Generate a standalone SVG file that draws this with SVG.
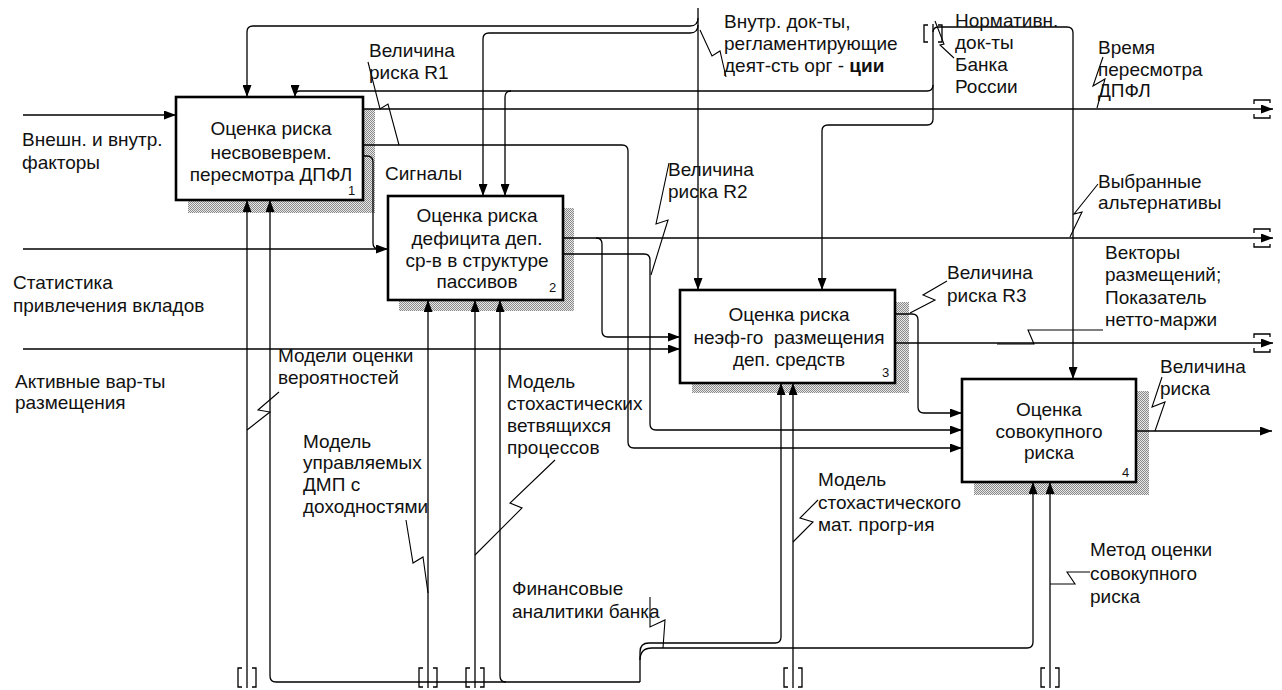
<svg xmlns="http://www.w3.org/2000/svg" width="1282" height="690" viewBox="0 0 1282 690">
<defs>
<pattern id="hatch" width="2" height="2" patternUnits="userSpaceOnUse"><rect width="2" height="2" fill="#e8e8e8"/><rect width="1" height="1" fill="#8a8a8a"/><rect x="1" y="1" width="1" height="1" fill="#8a8a8a"/></pattern>
<marker id="ah" viewBox="0 0 12 9" refX="12" refY="4.5" markerWidth="12" markerHeight="9" markerUnits="userSpaceOnUse" orient="auto"><path d="M0,0 L12,4.5 L0,9 z" fill="#000"/></marker>
</defs>
<style>
text{font-family:"Liberation Sans",Arial,sans-serif;font-size:19px;fill:#111}
.num{font-size:13px}
.box{fill:#fff;stroke:#000;stroke-width:2.6}
.sh{fill:url(#hatch)}
.c{fill:none;stroke:#000;stroke-width:1.3}
.a{marker-end:url(#ah)}
.sq{fill:none;stroke:#000;stroke-width:1.1}
.br{fill:none;stroke:#000;stroke-width:1.3}
.bc{text-anchor:middle}
</style>
<rect width="1282" height="690" fill="#fff"/>

<g id="node1">
<rect class="sh" x="188" y="109" width="187" height="104"/>
<rect class="box" x="176" y="97" width="187" height="103"/>
<text class="bc" x="271" y="135">Оценка риска</text>
<text class="bc" x="271" y="159">несвовеврем.</text>
<text class="bc" x="271" y="181">пересмотра ДПФЛ</text>
<text class="num" x="348" y="195">1</text>
</g>
<g id="node2">
<rect class="sh" x="399" y="208" width="175" height="103"/>
<rect class="box" x="388" y="196" width="175" height="104"/>
<text class="bc" x="477" y="222">Оценка риска</text>
<text class="bc" x="477" y="245">дефицита деп.</text>
<text class="bc" x="477" y="267">ср-в в структуре</text>
<text class="bc" x="477" y="288">пассивов</text>
<text class="num" x="549" y="292">2</text>
</g>
<g id="node3">
<rect class="sh" x="692" y="302" width="217" height="91"/>
<rect class="box" x="680" y="290" width="215" height="93"/>
<text class="bc" x="789" y="321">Оценка риска</text>
<text class="bc" x="789" y="344" xml:space="preserve">неэф-го  размещения</text>
<text class="bc" x="789" y="366">деп. средств</text>
<text class="num" x="882" y="377">3</text>
</g>
<g id="node4">
<rect class="sh" x="974" y="391" width="175" height="104"/>
<rect class="box" x="962" y="379" width="174" height="103"/>
<text class="bc" x="1049" y="416">Оценка</text>
<text class="bc" x="1049" y="438">совокупного</text>
<text class="bc" x="1049" y="459">риска</text>
<text class="num" x="1122" y="477">4</text>
</g>

<g id="connectors">
<path class="c a" d="M23,115 H176"/>
<path class="c a" d="M23,249 H388"/>
<path class="c a" d="M23,349 H680"/>
<path class="c" d="M363,156 H367 Q373,156 373,162 V243 Q373,249 379,249 H386"/>
<path class="c a" d="M363,109 H1273"/>
<path class="c a" d="M363,145 H622 Q628,145 628,151 V442 Q628,448 634,448 H962"/>
<path class="c a" d="M563,238 H1273"/>
<path class="c a" d="M596,238 Q602,238 602,244 V331 Q602,337 608,337 H680"/>
<path class="c a" d="M563,254 H644 Q650,254 650,260 V424 Q650,430 656,430 H962"/>
<path class="c a" d="M895,314 H912 Q918,314 918,320 V407 Q918,413 924,413 H962"/>
<path class="c a" d="M895,343 H1273"/>
<path class="c a" d="M1136,431 H1272"/>
<path class="c a" d="M698,8 V290"/>
<path class="c a" d="M698,18 Q698,26 690,26 H253 Q247,26 247,32 V97"/>
<path class="c a" d="M698,25 Q698,33 690,33 H489 Q483,33 483,39 V196"/>
<path class="c a" d="M933,24 V119 Q933,125 927,125 H828 Q822,125 822,131 V290"/>
<path class="c a" d="M933,85 Q933,91 927,91 H300 Q295,91 295,96 V97"/>
<path class="c a" d="M511,91 Q505,91 505,97 V196"/>
<path class="c a" d="M933,32 Q933,27 939,27 H1067 Q1073,27 1073,33 V379"/>
<path class="c a" d="M247,688 V200"/>
<path class="c a" d="M640,682 H276 Q270,682 270,676 V200"/>
<path class="c a" d="M506,682 Q500,682 500,676 V300"/>
<path class="c a" d="M640,682 V652 Q640,643 649,643 H775 Q781,643 781,637 V383"/>
<path class="c a" d="M640,660 Q640,648 652,648 H1027 Q1033,648 1033,642 V482"/>
<path class="c a" d="M428,688 V300"/>
<path class="c a" d="M475,688 V300"/>
<path class="c a" d="M793,688 V383"/>
<path class="c a" d="M1050,688 V482"/>
<path class="br" d="M1254,104 V100 H1270 V103 M1254,114 V118 H1270 V115"/>
<path class="br" d="M1254,233 V229 H1270 V232 M1254,243 V247 H1270 V244"/>
<path class="br" d="M1254,338 V334 H1270 V337 M1254,348 V352 H1270 V349"/>
<path class="br" d="M242,668 H238 V687 H242 M252,668 H256 V687 H252"/>
<path class="br" d="M423,668 H419 V687 H423 M433,668 H437 V687 H433"/>
<path class="br" d="M470,668 H466 V687 H470 M480,668 H484 V687 H480"/>
<path class="br" d="M788,668 H784 V687 H788 M798,668 H802 V687 H798"/>
<path class="br" d="M1045,668 H1041 V687 H1045 M1055,668 H1059 V687 H1055"/>
<path class="br" d="M928,25 H924 V42 H928 M938,25 H942 V42 H938"/>
<path class="sq" d="M399,145 L388,104 L380,109 L368,62"/>
<path class="sq" d="M700,30 L712,56 L720,51 L726,77"/>
<path class="sq" d="M935,21 L944,44 L940,45 L954,58"/>
<path class="sq" d="M1097,108 L1105,79 L1093,86 L1103,57"/>
<path class="sq" d="M1070,237 L1082,212 L1074,214 L1098,184"/>
<path class="sq" d="M651,275 L668,220 L656,224 L669,163"/>
<path class="sq" d="M910,313 L935,300 L923,295 L947,281"/>
<path class="sq" d="M997,344 L1034,344 L1028,330 L1103,330"/>
<path class="sq" d="M1155,431 L1165,402 L1152,407 L1162,377"/>
<path class="sq" d="M247,430 L270,412 L258,410 L279,392"/>
<path class="sq" d="M406,520 L413,563 L423,557 L428,593"/>
<path class="sq" d="M555,460 L510,503 L522,508 L475,555"/>
<path class="sq" d="M793,542 L813,522 L800,518 L818,500"/>
<path class="sq" d="M650,597 L650,627 L665,620 L663,648"/>
<path class="sq" d="M1050,584 L1075,584 L1067,572 L1090,572"/>
</g>

<g id="labels">
<text x="22" y="146">Внешн. и внутр.</text>
<text x="22" y="169">факторы</text>
<text x="13" y="289">Статистика</text>
<text x="13" y="312">привлечения вкладов</text>
<text x="15" y="388">Активные вар-ты</text>
<text x="15" y="409">размещения</text>
<text x="369" y="57">Величина</text>
<text x="369" y="79">риска R1</text>
<text x="385" y="180">Сигналы</text>
<text x="724" y="28">Внутр. док-ты,</text>
<text x="724" y="50">регламентирующие</text>
<text x="724" y="72">деят-сть орг - <tspan font-weight="bold">ции</tspan></text>
<text x="955" y="27">Нормативн.</text>
<text x="955" y="49">док-ты</text>
<text x="955" y="71">Банка</text>
<text x="955" y="93">России</text>
<text x="1098" y="54">Время</text>
<text x="1098" y="76">пересмотра</text>
<text x="1098" y="97">ДПФЛ</text>
<text x="1098" y="188">Выбранные</text>
<text x="1098" y="209">альтернативы</text>
<text x="668" y="176">Величина</text>
<text x="668" y="198">риска R2</text>
<text x="1105" y="259">Векторы</text>
<text x="1105" y="281">размещений;</text>
<text x="1105" y="304">Показатель</text>
<text x="1105" y="326">нетто-маржи</text>
<text x="947" y="279">Величина</text>
<text x="947" y="302">риска R3</text>
<text x="1160" y="373">Величина</text>
<text x="1160" y="395">риска</text>
<text x="278" y="362">Модели оценки</text>
<text x="278" y="384">вероятностей</text>
<text x="303" y="448">Модель</text>
<text x="303" y="469">управляемых</text>
<text x="303" y="491">ДМП с</text>
<text x="303" y="513">доходностями</text>
<text x="507" y="388">Модель</text>
<text x="507" y="410">стохастических</text>
<text x="507" y="432">ветвящихся</text>
<text x="507" y="454">процессов</text>
<text x="818" y="486">Модель</text>
<text x="818" y="509">стохастического</text>
<text x="818" y="531">мат. прогр-ия</text>
<text x="512" y="595">Финансовые</text>
<text x="512" y="618">аналитики банка</text>
<text x="1090" y="556">Метод оценки</text>
<text x="1090" y="580">совокупного</text>
<text x="1090" y="603">риска</text>
</g>
</svg>
